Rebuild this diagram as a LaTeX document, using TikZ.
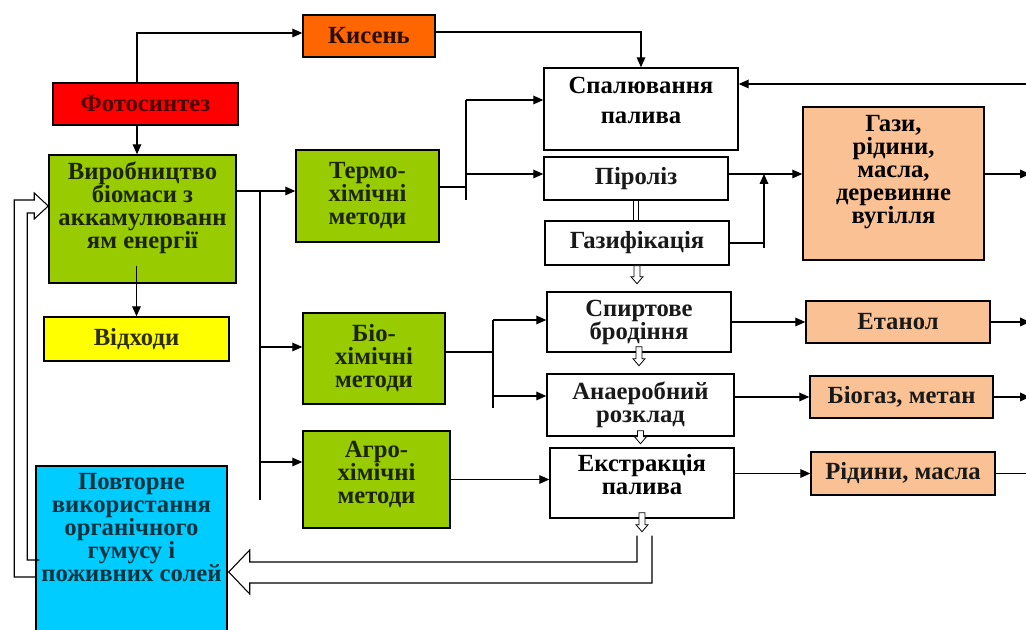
\documentclass[tikz,border=0pt]{standalone}
\usepackage{fontspec}
\setmainfont{Liberation Serif}
\usetikzlibrary{arrows.meta,calc}

\definecolor{fotored}{RGB}{255,0,0}
\definecolor{kysorange}{RGB}{255,102,0}
\definecolor{methgreen}{RGB}{153,204,0}
\definecolor{wasteyellow}{RGB}{255,255,0}
\definecolor{humcyan}{RGB}{0,204,255}
\definecolor{prodpeach}{RGB}{250,194,148}

\tikzset{every picture/.style={line width=0.9pt}}
\tikzset{
  arr/.style={-{Triangle[length=7.5pt,width=6.5pt]}},
  blk/.style={draw, line width=1.1pt, inner sep=0pt, align=center,
    font=\fontsize{18.5}{17.25}\selectfont\bfseries},
  proc/.style={blk, fill=white, text=black!90},
  meth/.style={blk, fill=methgreen, text=methgreen!18!black},
  prod/.style={blk, fill=prodpeach, text=black!90},
  txt/.style={inner sep=0pt, align=center, anchor=north,
    font=\fontsize{18.5}{17.25}\selectfont\bfseries},
  hollow/.style={line width=0.8pt},
  smalldn/.style={fill=white, line width=0.6pt,
    insert path={++(-3,0) -- ++(6,0) -- ++(0,#1) -- ++(3,0) -- ++(-6,7) -- ++(-6,-7) -- ++(3,0) -- cycle}}
}

\begin{document}
\begin{tikzpicture}[x=0.75pt,y=0.75pt,yscale=-1,xscale=1]
\useasboundingbox (0,0) rectangle (1026,630);

%Shape: Rectangle (left column)
\node[blk, fill=kysorange, text=kysorange!15!black, minimum width=99pt, minimum height=31.5pt] (kys) at (369,36) {Кисень};
\node[blk, fill=fotored, text=fotored!30!black, minimum width=138.75pt, minimum height=31.5pt] (foto) at (145.5,104) {Фотосинтез};
\node[blk, fill=methgreen, minimum width=140.25pt, minimum height=96pt] (vyrob) at (142.5,219) {};
\node[txt, text=methgreen!18!black] (vyrobt) at ($(vyrob.north)+(0,7)$) {Виробництво\\біомаси з\\аккамулюванн\\ям енергії};
\node[blk, fill=wasteyellow, text=wasteyellow!18!black, minimum width=138.75pt, minimum height=33pt] (vidh) at (136.5,339) {Відходи};
\node[blk, fill=humcyan, minimum width=143.25pt, minimum height=130.5pt] (povt) at (131.5,553) {};
\node[txt, text=humcyan!25!black] (povtt) at ($(povt.north)+(0,7)$) {Повторне\\використання\\органічного\\гумусу і\\поживних солей};

%Shape: Rectangle (methods)
\node[meth, minimum width=107.25pt, minimum height=69pt] (termo) at (367.5,196) {Термо-\\хімічні\\методи};
\node[meth, minimum width=106.5pt, minimum height=68.25pt] (bio) at (374,358.5) {Біо-\\хімічні\\методи};
\node[meth, minimum width=110.25pt, minimum height=72.75pt] (agro) at (376.5,479.5) {};
\node[txt, text=methgreen!18!black] (agrot) at ($(agro.north)+(0,10)$) {Агро-\\хімічні\\методи};

%Shape: Rectangle (processes)
\node[proc, minimum width=145.5pt, minimum height=61.5pt] (spal) at (641,109) {};
\node[txt, font=\fontsize{18.5}{22.5}\selectfont\bfseries] (spalt) at ($(spal.north)+(0,9)$) {Спалювання\\палива};
\node[proc, minimum width=138pt, minimum height=32.25pt] (pir) at (636,178.5) {Піроліз};
\node[proc, minimum width=138pt, minimum height=33pt] (gaz) at (637,243) {Газифікація};
\node[proc, minimum width=138pt, minimum height=45pt] (spyrt) at (639,322) {Спиртове\\бродіння};
\node[proc, minimum width=140.25pt, minimum height=46.5pt] (anaer) at (640.5,405) {Анаеробний\\розклад};
\node[proc, minimum width=138pt, minimum height=52.5pt] (ekstr) at (642,483) {};
\node[txt] (ekstrt) at ($(ekstr.north)+(0,7)$) {Екстракція\\палива};

%Shape: Rectangle (products)
\node[prod, minimum width=135.75pt, minimum height=114.75pt] (gazy) at (893.5,183.5) {};
\node[txt] (gazyt) at ($(gazy.north)+(0,8)$) {Гази,\\рідини,\\масла,\\деревинне\\вугілля};
\node[prod, minimum width=138pt, minimum height=31.5pt] (etan) at (898,322) {Етанол};
\node[prod, minimum width=137.25pt, minimum height=31.5pt] (biog) at (901.5,397) {Біогаз, метан};
\node[prod, minimum width=138pt, minimum height=32.25pt] (ridy) at (903,473.5) {Рідини, масла};

%Coordinates of branch points
\coordinate (fx) at ($(foto.north)+(-8.5,0)$);
\coordinate (j1) at (260,191);
\coordinate (jb) at (260,347);
\coordinate (ja) at (260,462);
\coordinate (jend) at (260,500);
\coordinate (t1) at (466,187);
\coordinate (t2) at (466,100);
\coordinate (t3) at (466,200);
\coordinate (t4) at (466,174);
\coordinate (g1) at (764,174);
\coordinate (g2) at (764,248);
\coordinate (b1) at (493,352);
\coordinate (b2) at (493,320);
\coordinate (b3) at (493,408);
\coordinate (b4) at (493,396);
\coordinate (eS) at (1030,84);
\coordinate (eR) at (1030,0);

%Straight Lines
\draw[arr] (fx) |- ($(kys.west)+(0,-3)$);
\draw[arr] (fx |- foto.south) -- (fx |- vyrob.north);
\draw[arr] ($(kys.east)+(0,-4)$) -| (spal.north);
\draw[arr] (eS) -- (eS -| spal.east);
\draw[arr] ($(vidh.north |- vyrob.south)+(0,-18)$) -- (vidh.north);

%Straight Lines (methods)
\draw (vyrob.east |- j1) -- (j1);
\draw (j1) -- (jend);
\draw[arr] (j1) -- (j1 -| termo.west);
\draw[arr] (jb) -- (jb -| bio.west);
\draw[arr] (ja) -- (ja -| agro.west);

%Straight Lines (thermo)
\draw (termo.east |- t1) -- (t1);
\draw (t2) -- (t3);
\draw[arr] (t2) -- (t2 -| spal.west);
\draw[arr] (t4) -- (t4 -| pir.west);
\draw[arr] (pir.east |- g1) -- (g1 -| gazy.west);
\draw (gaz.east) -- (gaz.east -| g1);
\draw[arr] (g2) -- (g1);
\draw[arr] (gazy.east |- g1) -- (g1 -| eR);
\draw[line width=0.7pt] ($(pir.south)+(-3,0)$) -- ($(pir.south |- gaz.north)+(-3,0)$);
\draw[line width=0.7pt] ($(pir.south)+(2,0)$) -- ($(pir.south |- gaz.north)+(2,0)$);

%Straight Lines (bio)
\draw (bio.east |- b1) -- (b1);
\draw (b2) -- (b3);
\draw[arr] (b2) -- (b2 -| spyrt.west);
\draw[arr] (b4) -- (b4 -| anaer.west);
\draw[arr] (spyrt.east) -- (etan.west);
\draw[arr] (etan.east) -- (etan.east -| eR);
\draw[arr] (anaer.east |- biog.west) -- (biog.west);
\draw[arr] (biog.east) -- (biog.east -| eR);

%Straight Lines (agro)
\draw[arr] (agro.east) -- (agro.east -| ekstr.west);
\draw[arr] (ekstr.east |- ridy.west) -- (ridy.west);
\draw (ridy.east) -- (ridy.east -| eR);

%Block arrows
\draw (gaz.south) [smalldn=11];
\draw ($(spyrt.south)+(0,-6)$) [smalldn=12];
\draw ($(anaer.south)+(0,-6)$) [smalldn=6];
\draw ($(ekstr.south)+(0,-6)$) [smalldn=12];

%Return arrow to humus
\coordinate (rt) at ($(povt.east)+(1,19)$);
\draw[hollow] ($(ekstr.south)+(-5,17)$) |- ($(rt)+(21,-10)$) -- ++(0,-12) -- (rt) -- ++(21,22) -- ++(0,-11) -| ($(ekstr.south)+(10,17)$);

%Feedback arrow to biomass
\coordinate (lt) at ($(vyrob.west)+(0,-13)$);
\draw[hollow] ($(povt.west)+(4,7)$) -- ++(-12,0) |- ($(lt)+(-14,7)$) -- ++(0,6) -- (lt) -- ++(-14,-13) -- ++(0,7) -| ($(povt.west)+(-21,24)$) -- ++(21,0);

\end{tikzpicture}
\end{document}
